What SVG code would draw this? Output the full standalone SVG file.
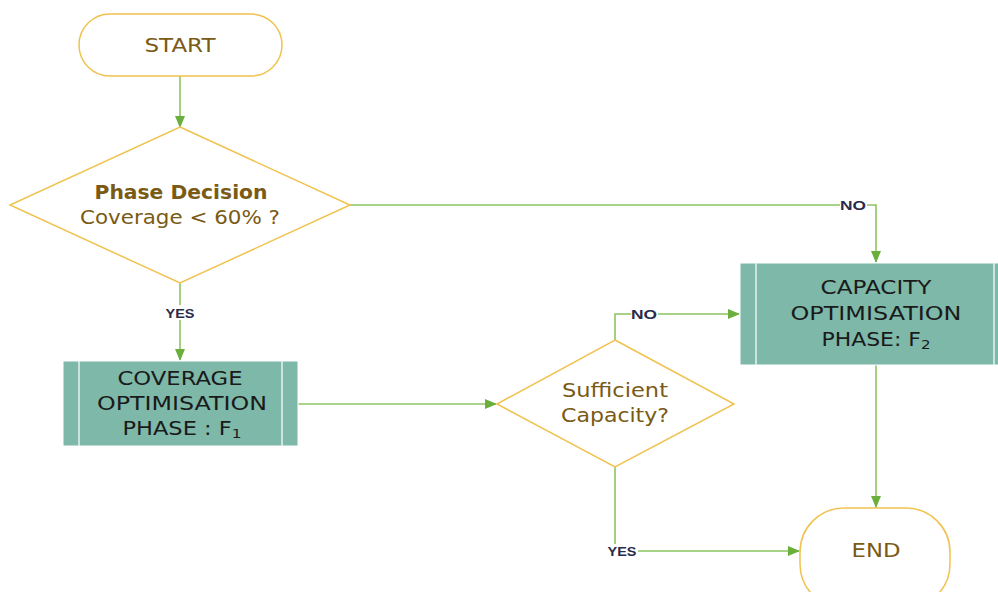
<svg xmlns="http://www.w3.org/2000/svg" width="998" height="592" viewBox="0 0 998 592">
<style>
.term{fill:#fff;stroke:#f0c24e;stroke-width:1.5}
.dec{fill:#fff;stroke:#f0c24e;stroke-width:1.5}
.proc{fill:#7db8a9;stroke:#fff;stroke-width:1}
.inner{stroke:#e8f2ef;stroke-width:1.5}
.t{font-family:"DejaVu Sans","Liberation Sans",sans-serif;font-size:19px;text-anchor:middle}
.tb{fill:#7a5a14}
.tk{fill:#1a1a1a}
.c{fill:none;stroke:#8cc461;stroke-width:1.6}
.lbl{font-family:"Liberation Sans",sans-serif;font-size:13px;font-weight:bold;fill:#2a2a4a;text-anchor:middle}
.lb{fill:#fff}
</style>
<defs>
<marker id="ah" markerWidth="12" markerHeight="10" refX="11" refY="5" orient="auto" markerUnits="userSpaceOnUse">
<path d="M0,0 L12,5 L0,10 Z" fill="#6aaf3c"/>
</marker>
</defs>
<rect width="998" height="592" fill="#fff"/>
<g id="connectors">
<path class="c" d="M180,76 V127" marker-end="url(#ah)"/>
<path class="c" d="M180,283 V360" marker-end="url(#ah)"/>
<path class="c" d="M350,205 H876 V262" marker-end="url(#ah)"/>
<path class="c" d="M298,404 H496" marker-end="url(#ah)"/>
<path class="c" d="M615,340 V314 H739" marker-end="url(#ah)"/>
<path class="c" d="M615,467 V551 H799" marker-end="url(#ah)"/>
<path class="c" d="M876,365 V507" marker-end="url(#ah)"/>
<rect class="lb" x="164" y="305" width="32" height="15"/>
<text class="lbl" x="180" y="318" textLength="29" lengthAdjust="spacingAndGlyphs">YES</text>
<rect class="lb" x="840" y="198" width="27" height="14"/>
<text class="lbl" x="853" y="210" textLength="26" lengthAdjust="spacingAndGlyphs">NO</text>
<rect class="lb" x="631" y="307" width="27" height="14"/>
<text class="lbl" x="644" y="319" textLength="26" lengthAdjust="spacingAndGlyphs">NO</text>
<rect class="lb" x="607" y="544" width="31" height="14"/>
<text class="lbl" x="622" y="556" textLength="29" lengthAdjust="spacingAndGlyphs">YES</text>
</g>
<g id="start">
<rect class="term" x="79" y="14" width="203" height="62" rx="31"/>
<text class="t tb" x="180" y="52" textLength="71" lengthAdjust="spacingAndGlyphs">START</text>
</g>
<g id="phase-decision">
<polygon class="dec" points="180,127 350,205 180,283 10,205"/>
<text class="t tb" x="181" y="199" font-weight="bold" textLength="173" lengthAdjust="spacingAndGlyphs">Phase Decision</text>
<text class="t tb" x="180" y="224" textLength="200" lengthAdjust="spacingAndGlyphs">Coverage &lt; 60% ?</text>
</g>
<g id="coverage">
<rect class="proc" x="63" y="361" width="235" height="85"/>
<line class="inner" x1="79" y1="361" x2="79" y2="446"/>
<line class="inner" x1="282" y1="361" x2="282" y2="446"/>
<text class="t tk" x="180" y="385" textLength="125" lengthAdjust="spacingAndGlyphs">COVERAGE</text>
<text class="t tk" x="182" y="410" textLength="170" lengthAdjust="spacingAndGlyphs">OPTIMISATION</text>
<text class="t tk" x="182" y="435" textLength="119" lengthAdjust="spacingAndGlyphs">PHASE : F<tspan font-size="13" dy="3">1</tspan></text>
</g>
<g id="sufficient">
<polygon class="dec" points="615,340 734,404 615,467 497,404"/>
<text class="t tb" x="615" y="397" textLength="106" lengthAdjust="spacingAndGlyphs">Sufficient</text>
<text class="t tb" x="615" y="422" textLength="108" lengthAdjust="spacingAndGlyphs">Capacity?</text>
</g>
<g id="capacity">
<rect class="proc" x="740" y="263" width="262" height="102"/>
<line class="inner" x1="756" y1="263" x2="756" y2="365"/>
<line class="inner" x1="994" y1="263" x2="994" y2="365"/>
<text class="t tk" x="876" y="294" textLength="111" lengthAdjust="spacingAndGlyphs">CAPACITY</text>
<text class="t tk" x="876" y="320" textLength="171" lengthAdjust="spacingAndGlyphs">OPTIMISATION</text>
<text class="t tk" x="876" y="346" textLength="109" lengthAdjust="spacingAndGlyphs">PHASE: F<tspan font-size="13" dy="3">2</tspan></text>
</g>
<g id="end">
<rect class="term" x="800" y="508" width="150" height="100" rx="44"/>
<text class="t tb" x="876" y="557" textLength="49" lengthAdjust="spacingAndGlyphs">END</text>
</g>
</svg>
